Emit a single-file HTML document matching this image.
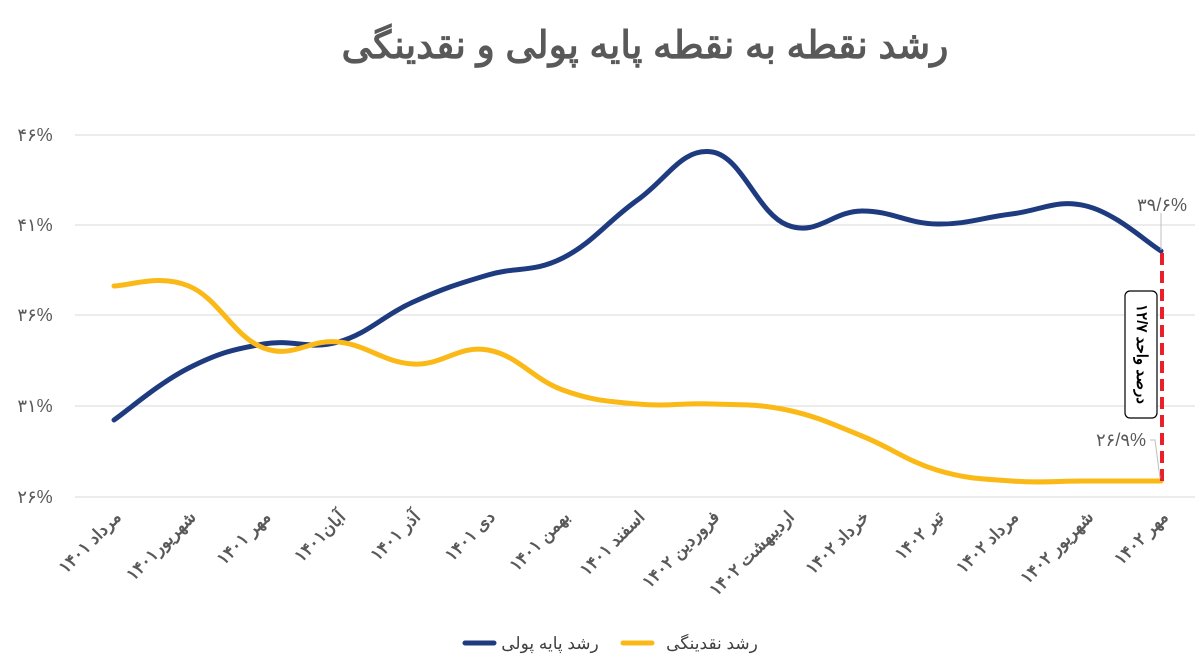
<!DOCTYPE html>
<html><head><meta charset="utf-8"><style>
body{margin:0;background:#fff;}
svg text{font-family:"Liberation Sans","Noto Sans CJK SC",sans-serif;}
</style></head><body>
<svg id="s" width="1200" height="664" xmlns="http://www.w3.org/2000/svg">
<text x="645" y="58" text-anchor="middle" font-size="38" font-weight="bold" fill="#595959">رشد نقطه به نقطه پایه پولی و نقدینگی</text>
<g stroke="#d9d9d9" stroke-width="1">
<line x1="75" x2="1195" y1="135" y2="135"/><line x1="75" x2="1195" y1="225" y2="225"/><line x1="75" x2="1195" y1="315" y2="315"/><line x1="75" x2="1195" y1="406" y2="406"/><line x1="75" x2="1195" y1="497" y2="497"/>
</g>
<g font-size="18" fill="#595959" text-anchor="middle">
<text x="35" y="141">۴۶%</text><text x="35" y="231">۴۱%</text><text x="35" y="321">۳۶%</text><text x="35" y="412">۳۱%</text><text x="35" y="503">۲۶%</text>
</g>
<path id="b" fill="none" stroke="#1f3b80" stroke-width="5" stroke-linecap="round"/>
<path id="y" fill="none" stroke="#fbb917" stroke-width="5" stroke-linecap="round"/>
<line x1="1162" y1="253" x2="1162" y2="481" stroke="#e8202a" stroke-width="4" stroke-dasharray="12,6"/>
<line x1="1161" y1="213" x2="1161" y2="250" stroke="#bfbfbf" stroke-width="1"/>
<polyline points="1150,440 1155,440 1160,478" fill="none" stroke="#bfbfbf" stroke-width="1"/>
<text x="1187" y="211" font-size="18" fill="#595959" text-anchor="end">۳۹/۶%</text>
<text x="1146" y="446" font-size="18" fill="#595959" text-anchor="end">۲۶/۹%</text>
<rect x="1125" y="291" width="32" height="127" rx="5" fill="#fff" stroke="#000" stroke-width="1.2"/>
<text transform="translate(1141,354) rotate(90)" font-size="15" font-weight="bold" fill="#000" text-anchor="middle" dominant-baseline="middle">درصد واحد ۱۲/۷</text>
<g id="xl" font-size="17" fill="#595959" text-anchor="end"></g>
<line x1="465" x2="494" y1="643" y2="643" stroke="#1f3b80" stroke-width="5" stroke-linecap="round"/>
<text x="550" y="649" font-size="17" fill="#404040" text-anchor="middle">رشد پایه پولی</text>
<line x1="623" x2="652" y1="643" y2="643" stroke="#fbb917" stroke-width="5" stroke-linecap="round"/>
<text x="712" y="649" font-size="17" fill="#404040" text-anchor="middle">رشد نقدینگی</text>
</svg>
<script>
var xs=[];for(var i=0;i<15;i++)xs.push(114+i*74.79);
var B=[420,368,344,342,302,275,258,200,152,225,211,224,214,206,251];
var Y=[286,286,348,342,364,350,390,404,404,410,436,470,481,481,481];
function path(v){var p=xs.map(function(x,i){return[x,v[i]]});var d="M"+p[0][0]+","+p[0][1];var t=0.2;
for(var i=0;i<p.length-1;i++){var p0=p[i-1]||p[i],p1=p[i],p2=p[i+1],p3=p[i+2]||p2;
d+=" C"+(p1[0]+(p2[0]-p0[0])*t)+","+(p1[1]+(p2[1]-p0[1])*t)+" "+(p2[0]-(p3[0]-p1[0])*t)+","+(p2[1]-(p3[1]-p1[1])*t)+" "+p2[0]+","+p2[1];}return d;}
document.getElementById("b").setAttribute("d",path(B));
document.getElementById("y").setAttribute("d",path(Y));
var L=["مرداد ۱۴۰۱","شهریور۱۴۰۱","مهر ۱۴۰۱","آبان۱۴۰۱","آذر ۱۴۰۱","دی ۱۴۰۱","بهمن ۱۴۰۱","اسفند ۱۴۰۱","فروردین ۱۴۰۲","اردیبهشت ۱۴۰۲","خرداد ۱۴۰۲","تیر ۱۴۰۲","مرداد ۱۴۰۲","شهریور ۱۴۰۲","مهر ۱۴۰۲"];
var g=document.getElementById("xl"),h="";
L.forEach(function(s,i){var x=xs[i]+8,y=518;h+='<text font-weight="bold" transform="translate('+x+','+y+') rotate(-45)">'+s+'</text>';});
g.innerHTML=h;
</script>
</body></html>
